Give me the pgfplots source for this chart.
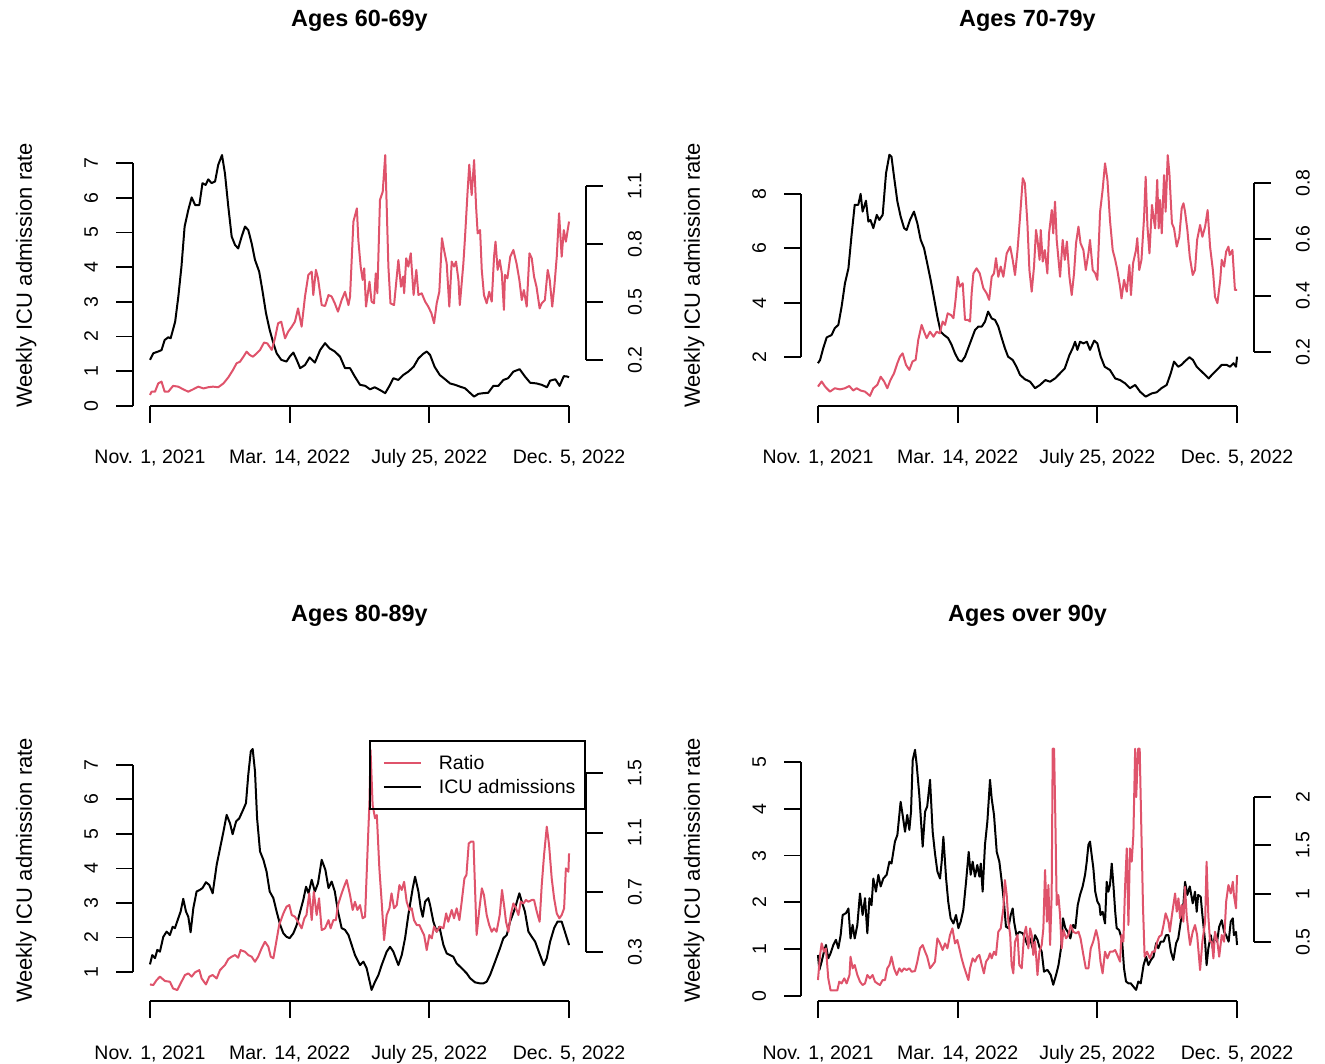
\documentclass[border=0pt]{standalone}
\usepackage{fontspec}
\setmainfont{Liberation Sans}
\usepackage{pgfplots}
\pgfplotsset{compat=1.18}
\definecolor{rred}{HTML}{DF536B}
\tikzset{axl/.style={black, line width=1.8pt}}
\pgfplotsset{
  base/.style={
    scale only axis, width=452.6pt, height=261pt,
    xmin=-15.96, xmax=414.96,
    clip=false,
    axis line style={draw=none},
    tick align=outside,
    major tick length=17pt,
    tick style={black, line width=1.8pt},
    tick label style={font=\fontsize{19.5}{20}\selectfont, inner sep=0pt},
    /pgf/number format/assume math mode=true,
    anchor=south west,
  },
  leftax/.style={
    base,
    axis x line*=bottom, axis y line*=left,
    xtick={0,133,266,399},
    xticklabels={{Nov. 1, 2021},{Mar. 14, 2022},{July 25, 2022},{Dec. 5, 2022}},
    xticklabel style={anchor=base, yshift=-41pt},
    yticklabel style={xshift=-18pt, rotate=90, anchor=south},
    ylabel={Weekly ICU admission rate},
    ylabel style={at={(axis description cs:-0.2364,0.5)}, anchor=center, font=\fontsize{22}{24}\selectfont},
    title style={at={(axis description cs:0.5,1.452)}, anchor=center, font=\bfseries\fontsize{23.4}{26}\selectfont},
  },
  rightax/.style={
    base,
    axis x line=none, axis y line*=right,
    yticklabel style={xshift=25pt, rotate=90, anchor=north},
  },
  kline/.style={black, line width=2pt, line join=round},
  rline/.style={rred, line width=2pt, line join=round},
}
\begin{document}
\begin{tikzpicture}
\path[use as bounding box] (0,0) rectangle (1325pt,1063pt);

% ---------------- Panel 1: Ages 60-69y ----------------
\begin{axis}[leftax, at={(133.2pt,657pt)}, ymin=0, ymax=7.52, ytick={0,1,...,7}, title={Ages 60-69y}]
\addplot[kline] coordinates {(0,1.33)(3.2,1.52)(7.9,1.57)(11,1.61)(14,1.90)(17.5,1.98)(19.7,1.95)(24,2.43)(27,3.15)(30,4.02)(33,5.17)(36.5,5.65)(39.7,6.01)(43,5.79)(47,5.79)(50,6.42)(53,6.37)(55.5,6.53)(58.7,6.42)(62,6.47)(65,6.95)(68.6,7.23)(71.4,6.70)(74.6,5.74)(77.8,4.88)(81,4.64)(84,4.54)(87.3,4.88)(90.5,5.17)(93.6,5.07)(96.8,4.69)(100,4.21)(104,3.87)(107,3.34)(110.5,2.67)(114,2.19)(117.5,1.81)(120.6,1.52)(125,1.33)(130,1.28)(133,1.42)(136.5,1.54)(139.7,1.33)(143,1.09)(147.6,1.18)(152,1.40)(157,1.25)(162,1.61)(166.7,1.81)(171,1.66)(176,1.57)(181,1.42)(185.7,1.09)(190.5,1.09)(195,0.85)(200,0.61)(205,0.58)(209.5,0.48)(214,0.54)(219,0.46)(224,0.37)(228.6,0.61)(231.7,0.80)(236.5,0.75)(241,0.89)(246,0.99)(251,1.13)(255.6,1.37)(260,1.50)(263.5,1.57)(266.7,1.47)(271,1.13)(276,0.89)(281,0.77)(285.7,0.65)(290.5,0.61)(295,0.56)(300,0.51)(305,0.37)(308.6,0.27)(312.7,0.35)(317.5,0.37)(322,0.38)(327,0.58)(331.7,0.58)(336.5,0.75)(341,0.80)(346,0.99)(352,1.06)(357,0.85)(362,0.67)(368,0.65)(373,0.61)(378,0.54)(381,0.73)(386,0.77)(390,0.58)(394,0.86)(397,0.85)(399,0.83)};
\draw[axl] (axis cs:0,0) -- (axis cs:399,0);
\draw[axl] (axis cs:-15.96,0) -- (axis cs:-15.96,7);
\end{axis}
\begin{axis}[rightax, at={(133.2pt,657pt)}, ymin=-0.038, ymax=1.312, ytick={0.2,0.5,0.8,1.1}]
\addplot[rline] coordinates {(0,0.019)(1.6,0.036)(4.8,0.036)(7.9,0.079)(11,0.088)(14,0.036)(17.5,0.036)(22,0.066)(27,0.062)(31.7,0.048)(36.5,0.036)(41,0.048)(46,0.062)(51,0.053)(55.5,0.059)(60,0.062)(65,0.059)(70,0.079)(74.6,0.11)(79,0.148)(82.5,0.183)(85.7,0.191)(89,0.217)(92,0.243)(95,0.226)(98,0.217)(101.6,0.234)(104.8,0.252)(108.6,0.29)(111.7,0.286)(116,0.252)(119,0.312)(122,0.39)(125,0.398)(128.6,0.312)(131.7,0.347)(135,0.372)(138,0.398)(141,0.467)(144.4,0.372)(147.6,0.528)(150.8,0.64)(154,0.657)(155.5,0.536)(158,0.666)(160,0.622)(163.5,0.484)(166.7,0.479)(170,0.536)(173,0.528)(176,0.493)(179,0.45)(182.5,0.51)(185.7,0.553)(189,0.484)(190.5,0.528)(193.7,0.916)(197,0.984)(198.4,0.82)(200.6,0.683)(202.5,0.614)(204,0.674)(205.7,0.476)(209,0.605)(211,0.502)(213.3,0.493)(215,0.648)(216.5,0.545)(219,1.028)(221.6,1.07)(224,1.26)(225.4,0.993)(227,0.683)(229,0.493)(232.4,0.484)(236.5,0.717)(239,0.579)(241,0.631)(242,0.545)(244,0.726)(246,0.683)(248.3,0.752)(251,0.536)(253.6,0.666)(255.6,0.536)(258.7,0.545)(262,0.502)(265,0.476)(268,0.441)(270.5,0.39)(273,0.493)(275.5,0.553)(278,0.83)(280,0.769)(282.5,0.70)(285,0.476)(287.3,0.709)(289.5,0.683)(291.4,0.709)(293.7,0.614)(295,0.484)(298.4,0.70)(300,0.838)(302.5,1.08)(304,1.21)(306.3,1.053)(308.6,1.234)(310.5,0.993)(312,0.855)(314.3,0.872)(315.9,0.666)(318,0.536)(320.6,0.493)(323,0.553)(325.4,0.502)(327.6,0.734)(329,0.812)(331,0.666)(333,0.717)(335,0.648)(337,0.459)(338,0.64)(340.3,0.622)(343,0.734)(346,0.769)(349,0.70)(351.7,0.614)(354,0.51)(356,0.562)(358.7,0.476)(361.3,0.752)(363.5,0.726)(365.7,0.631)(368,0.579)(371,0.467)(373,0.493)(376,0.51)(378.7,0.666)(380.6,0.614)(383,0.476)(385,0.579)(387.3,0.734)(389.5,0.959)(392,0.734)(394,0.872)(396,0.812)(399,0.916)};
\draw[axl] (axis cs:414.96,0.2) -- (axis cs:414.96,1.1);
\end{axis}

% ---------------- Panel 2: Ages 70-79y ----------------
\begin{axis}[leftax, at={(801.2pt,657pt)}, ymin=0.196, ymax=9.80, ytick={2,4,6,8}, title={Ages 70-79y}]
\addplot[kline] coordinates {(0,1.77)(2,1.89)(5,2.32)(8.3,2.72)(13,2.81)(16,3.06)(19.4,3.18)(22.5,3.85)(25.7,4.71)(29,5.26)(32,6.49)(35,7.60)(38.4,7.60)(40.6,8.00)(42.5,7.35)(45.7,7.75)(48,6.98)(50,7.04)(52.7,6.74)(56,7.23)(58.4,7.04)(61.6,7.23)(64.8,8.76)(68,9.44)(70,9.37)(72.4,8.64)(75.6,7.72)(78.7,7.17)(82,6.74)(84.4,6.67)(87.6,7.04)(91.4,7.35)(94.6,6.92)(97.8,6.31)(101,6.00)(104,5.45)(107.3,4.83)(110.5,4.16)(113.7,3.48)(116.8,2.93)(120,2.81)(124,2.69)(127.3,2.44)(130.5,2.13)(133.7,1.89)(136.8,1.83)(140,2.01)(143,2.32)(146,2.63)(149.5,2.99)(152.7,3.12)(156,3.12)(159,3.30)(162,3.67)(165.4,3.42)(168.6,3.36)(171.7,3.12)(175,2.69)(178,2.32)(181,2.01)(185.4,1.89)(189,1.64)(192.4,1.34)(197,1.18)(202,1.09)(206.7,0.85)(211.4,0.97)(216.5,1.15)(221,1.09)(225.7,1.21)(230.5,1.40)(235,1.58)(239.4,2.07)(242.5,2.32)(244.8,2.56)(247,2.26)(249.5,2.56)(252.7,2.50)(256,2.56)(259,2.26)(263,2.60)(266,2.50)(269.2,2.01)(273,1.64)(278,1.52)(283,1.21)(287.6,1.15)(292.4,1.03)(297,0.85)(302,0.97)(306.7,0.72)(312,0.54)(317.8,0.66)(322.5,0.70)(327,0.85)(332,0.97)(335.9,1.40)(339,1.83)(343,1.64)(346,1.71)(349,1.83)(353.7,1.99)(357,1.89)(360.6,1.64)(365.4,1.46)(368.6,1.34)(372,1.21)(375,1.34)(379.7,1.52)(384.4,1.71)(389,1.71)(392.4,1.64)(395.6,1.77)(398,1.64)(399,2.01)};
\draw[axl] (axis cs:0,0.196) -- (axis cs:399,0.196);
\draw[axl] (axis cs:-15.96,2) -- (axis cs:-15.96,8);
\end{axis}
\begin{axis}[rightax, at={(801.2pt,657pt)}, ymin=0.008, ymax=0.935, ytick={0.2,0.4,0.6,0.8}]
\addplot[rline] coordinates {(0,0.077)(3.5,0.095)(6.7,0.077)(11.4,0.059)(16,0.071)(21,0.067)(25.7,0.071)(29.8,0.079)(33.6,0.063)(36.8,0.071)(40.6,0.063)(44.8,0.059)(49.5,0.044)(52.7,0.071)(56.5,0.083)(59.7,0.112)(63,0.095)(66,0.071)(69,0.10)(72.4,0.124)(75.6,0.16)(78,0.183)(80.6,0.195)(83.8,0.154)(87,0.136)(90,0.166)(93,0.172)(95.5,0.243)(98.7,0.296)(101,0.272)(103.5,0.249)(106.7,0.272)(110,0.254)(113,0.272)(116,0.266)(118.7,0.308)(121,0.296)(123.5,0.337)(126.7,0.331)(129,0.32)(131,0.385)(133,0.467)(135,0.432)(137.8,0.444)(140,0.314)(142.5,0.314)(144.8,0.308)(146.3,0.408)(148,0.479)(151,0.497)(154,0.479)(157.5,0.426)(160.6,0.408)(163,0.385)(165.4,0.467)(167.6,0.479)(169.5,0.533)(171.7,0.467)(174,0.503)(176.5,0.467)(179.7,0.55)(183,0.574)(185.4,0.527)(187.6,0.473)(190,0.562)(192.4,0.68)(195,0.817)(197,0.799)(199.4,0.657)(201.3,0.491)(203.5,0.414)(205.7,0.503)(207.6,0.633)(209,0.598)(211,0.527)(212.1,0.633)(214,0.521)(216,0.562)(218.4,0.479)(220,0.621)(222.6,0.704)(224,0.621)(225.7,0.734)(227.3,0.598)(230.5,0.467)(233,0.598)(235,0.527)(237,0.592)(239.4,0.467)(241.6,0.402)(243.8,0.479)(245.7,0.586)(248,0.645)(250,0.586)(252.7,0.562)(255,0.491)(257.5,0.55)(259,0.598)(261.6,0.491)(264,0.479)(266,0.456)(268.6,0.698)(271,0.775)(273.3,0.87)(275.6,0.811)(278,0.669)(280.6,0.562)(283,0.527)(285,0.491)(287.6,0.432)(289,0.39)(291.4,0.456)(294,0.414)(296.5,0.509)(298,0.402)(300,0.515)(302.8,0.562)(304,0.604)(305.9,0.491)(308,0.527)(310.5,0.68)(312,0.822)(313.7,0.645)(315.6,0.55)(318,0.722)(319.4,0.68)(321,0.639)(323,0.811)(324.4,0.639)(325.7,0.74)(327.3,0.621)(329.5,0.828)(331,0.698)(333,0.899)(334.6,0.834)(337,0.657)(339,0.639)(341.6,0.574)(344,0.609)(346.3,0.71)(348,0.728)(349.5,0.698)(351.7,0.633)(354,0.538)(356.8,0.473)(359,0.491)(361,0.598)(363.8,0.651)(366,0.609)(368.6,0.645)(371,0.704)(373.3,0.574)(376,0.491)(378,0.396)(380.3,0.373)(383,0.456)(384.4,0.527)(386.7,0.503)(388.6,0.556)(390.8,0.574)(392,0.544)(394.6,0.562)(397,0.42)(399,0.42)};
\draw[axl] (axis cs:414.96,0.2) -- (axis cs:414.96,0.8);
\end{axis}

% ---------------- Panel 3: Ages 80-89y ----------------
\begin{axis}[leftax, at={(133.2pt,62pt)}, ymin=0.16, ymax=7.72, ytick={1,2,...,7}, title={Ages 80-89y}]
\addplot[kline] coordinates {(0,1.22)(2.2,1.49)(4.8,1.40)(7,1.64)(9.5,1.59)(12.7,2.02)(15.9,2.17)(19,2.07)(21.6,2.31)(23.8,2.27)(27,2.56)(29.2,2.75)(31.7,3.12)(34.3,2.75)(36.5,2.60)(38.7,2.15)(41.3,2.85)(44.4,3.33)(47.6,3.38)(50,3.43)(53.3,3.60)(56.5,3.52)(59.7,3.28)(63.5,4.10)(66.7,4.58)(70,5.07)(73,5.55)(76.2,5.31)(78.7,4.99)(82,5.36)(85,5.45)(88,5.65)(91.4,5.89)(93.6,6.71)(96,7.39)(97.8,7.46)(100,6.81)(102,5.45)(104.8,4.49)(108,4.25)(111,3.91)(114,3.33)(117.5,3.14)(120.6,2.75)(124,2.36)(127,2.12)(130,2.02)(133,1.98)(136.5,2.12)(139.7,2.36)(143,2.75)(146,3.09)(148.6,3.47)(151,3.28)(154,3.67)(157,3.33)(160,3.57)(163.5,4.25)(167,3.96)(170,3.43)(173,3.62)(176,3.33)(179,2.75)(182.5,2.27)(185.7,2.22)(189,2.07)(195.2,1.49)(200,1.20)(203.2,1.30)(206.3,1.11)(211,0.48)(214.3,0.72)(217.5,0.91)(220.6,1.20)(225.4,1.59)(228.6,1.73)(231.7,1.59)(236.5,1.20)(239.7,1.49)(242.9,1.98)(246,2.65)(250.2,3.43)(252.4,3.76)(255.6,3.33)(257.8,2.85)(259.7,2.60)(262,3.04)(265,3.14)(266.7,2.94)(269.8,2.46)(273,2.17)(275.6,2.31)(279.4,1.78)(282.5,1.54)(285.7,1.49)(288.9,1.44)(292,1.25)(296.8,1.11)(301.6,0.96)(304.8,0.82)(309.5,0.70)(314.3,0.67)(317.5,0.67)(320.6,0.72)(323.8,0.91)(328.6,1.30)(333.3,1.69)(336.5,1.98)(339.7,2.07)(342.9,2.46)(347.6,2.85)(351.7,3.28)(354,3.04)(357,2.75)(360.3,2.17)(363.5,2.02)(366.7,1.88)(371.4,1.49)(375,1.20)(377.8,1.40)(381,1.88)(384.8,2.27)(388,2.46)(392,2.46)(395,2.17)(399,1.78)};
\draw[axl] (axis cs:0,0.16) -- (axis cs:399,0.16);
\draw[axl] (axis cs:-15.96,1) -- (axis cs:-15.96,7);
\end{axis}
\begin{axis}[rightax, at={(133.2pt,62pt)}, ymin=-0.028, ymax=1.721, ytick={0.3,0.7,1.1,1.5},
  legend style={at={(1,1)}, anchor=north east, draw=black, line width=1.8pt, fill=none,
    font=\fontsize{19.5}{20}\selectfont, inner xsep=9.5pt, inner ysep=14pt, row sep=8.5pt,
    nodes={inner sep=0pt}, /tikz/every odd column/.append style={column sep=17pt}},
  legend image code/.code={\path (0pt,0pt); \draw[#1] (3.5pt,0pt) -- (40.5pt,0pt);},
  legend cell align=left]
\addplot[rline] coordinates {(0,0.083)(3.2,0.079)(6.3,0.112)(9.5,0.135)(14.3,0.106)(19,0.101)(22,0.056)(26,0.045)(29.2,0.09)(33.3,0.146)(36.5,0.157)(39.7,0.135)(42.9,0.164)(47,0.179)(49.2,0.123)(53.3,0.083)(56.5,0.135)(59.7,0.146)(63.5,0.123)(66.7,0.179)(71.4,0.213)(74.6,0.253)(77.8,0.269)(81,0.28)(84,0.262)(86.3,0.313)(90.5,0.302)(93.6,0.28)(96.8,0.269)(100,0.235)(103,0.269)(106.3,0.325)(109.5,0.369)(112.7,0.336)(115,0.269)(117.5,0.258)(120,0.358)(123,0.481)(127,0.559)(130,0.604)(132.7,0.615)(135,0.548)(138,0.537)(141,0.503)(144.4,0.459)(147,0.526)(149,0.548)(151.7,0.693)(154,0.514)(156,0.704)(158.7,0.548)(161,0.66)(163.5,0.447)(166.7,0.459)(170,0.514)(172,0.459)(174.6,0.514)(177,0.514)(179,0.615)(182.5,0.693)(184.8,0.738)(187.3,0.783)(190.5,0.682)(193,0.582)(195.2,0.637)(197.5,0.582)(200,0.615)(202.5,0.526)(204.8,0.537)(207,0.95)(209,1.308)(210,1.654)(212,1.285)(214.3,1.196)(216,1.218)(218.4,0.861)(220.6,0.637)(222.9,0.38)(225.4,0.548)(228,0.593)(230,0.693)(232.4,0.593)(235,0.615)(237.5,0.749)(239.7,0.716)(242,0.771)(244.4,0.637)(247,0.582)(249.2,0.593)(251.4,0.514)(254,0.481)(256.5,0.481)(258.7,0.447)(261,0.414)(263.5,0.313)(266,0.414)(268.3,0.392)(270.5,0.47)(273,0.436)(276,0.47)(279.4,0.459)(282,0.559)(284,0.503)(287.3,0.582)(289.5,0.526)(292,0.593)(294.6,0.514)(296.8,0.637)(299.4,0.794)(301.3,0.816)(303.5,1.028)(305.7,1.04)(308,1.04)(309.5,0.727)(311,0.414)(313.7,0.593)(316,0.727)(318,0.682)(320.6,0.548)(323,0.481)(325.4,0.436)(327.6,0.459)(330,0.436)(333,0.548)(335.2,0.716)(337.5,0.593)(339,0.503)(341.3,0.436)(343.5,0.548)(346,0.626)(348.6,0.593)(350.8,0.548)(353,0.637)(355.6,0.626)(358,0.649)(360.3,0.637)(363.5,0.649)(365.7,0.649)(368.3,0.57)(371,0.503)(373,0.749)(375.2,0.95)(377.8,1.14)(380,1.017)(382.5,0.794)(384.8,0.66)(387.3,0.559)(389.8,0.526)(392,0.548)(394.3,0.593)(396,0.861)(398.4,0.838)(399,0.961)};
\addlegendentry{Ratio}
\addlegendimage{kline}
\addlegendentry{ICU admissions}
\draw[axl] (axis cs:414.96,0.3) -- (axis cs:414.96,1.5);
\end{axis}

% ---------------- Panel 4: Ages over 90y ----------------
\begin{axis}[leftax, at={(801.2pt,62pt)}, ymin=-0.107, ymax=5.47, ytick={0,1,...,5}, title={Ages over 90y}]
\addplot[kline] coordinates {(0,0.876)(1.3,0.556)(3.5,0.734)(5.7,0.947)(7.6,1.09)(9.8,0.805)(12,0.912)(14.6,1.09)(17.1,1.2)(19.4,1.02)(21.6,1.3)(23.5,1.73)(26.7,1.77)(29,1.87)(31,1.23)(33,1.52)(35,1.23)(37.5,1.52)(40,2.19)(42.5,1.73)(44.8,2.09)(47,1.34)(49,2.09)(51,1.94)(52.7,2.51)(55.2,2.23)(57.5,2.59)(59.7,2.34)(62.2,2.51)(65.4,2.59)(68,2.87)(70,2.83)(73.3,3.3)(75.6,3.44)(78.7,4.15)(80.6,3.87)(82.9,3.51)(85,3.87)(87,3.55)(88.6,3.94)(90.2,5.04)(92.4,5.26)(94,4.94)(96.5,4.29)(99.7,3.19)(102,3.94)(104,4.05)(106.7,4.62)(109.2,3.51)(111.4,3.05)(113.7,2.66)(116.2,2.51)(117.8,2.87)(119.4,3.4)(122,2.51)(124,2.02)(126.3,1.66)(129,1.55)(131.4,1.73)(133.7,1.45)(135.9,1.59)(138.4,1.84)(141,2.44)(143.5,3.08)(145.4,2.59)(147.3,2.87)(149.5,2.55)(151.7,2.8)(153.7,2.55)(155,2.83)(156.8,2.23)(159,3.23)(161.3,3.73)(163.8,4.62)(165.4,4.22)(167.6,3.87)(170.2,3.08)(172.7,2.87)(175,2.44)(177,2.02)(179,1.48)(181.3,1.45)(183.5,1.73)(185.4,1.87)(186.7,1.59)(189,1.3)(191.7,1.37)(195,1.34)(197,1.23)(199.4,1.09)(202,1.23)(204.4,1.02)(206.7,1.3)(209,1.2)(210.8,1.05)(213,0.95)(215.2,0.52)(218.4,0.56)(221.6,0.45)(224,0.24)(226.7,0.45)(229,0.66)(231.4,1.02)(233.3,1.66)(235.5,1.45)(237.8,1.37)(240.3,1.23)(242.9,1.52)(245,1.45)(247.3,1.94)(249.5,2.16)(252,2.34)(254.3,2.59)(255.9,2.87)(257.5,3.23)(259,3.3)(260.6,3.01)(262.2,2.73)(264,2.23)(266,2.02)(268,1.94)(269,1.73)(271,1.8)(273.3,1.55)(274.9,2.44)(276.5,2.23)(278,2.37)(279.7,2.83)(281.3,2.37)(283,1.8)(284.4,1.45)(286.7,1.41)(289.5,1.2)(291.4,0.59)(293.3,0.31)(295.6,0.27)(297.8,0.27)(300.3,0.2)(302.9,0.13)(305,0.31)(307.3,0.27)(310,0.66)(312.4,0.84)(314.6,0.66)(317,0.77)(319.4,0.84)(322,1.13)(324,1.02)(326.3,1.16)(329,1.16)(331.4,1.3)(333.7,1.3)(336,0.95)(338.4,0.77)(341,1.13)(343,1.23)(345.4,1.59)(348,1.98)(349.5,2.44)(351.7,2.16)(354,2.34)(356.8,1.98)(359,2.23)(360.6,1.8)(362,2.16)(364.4,2.12)(366,1.73)(368.6,1.16)(370,0.66)(371.7,1.02)(374,1.3)(375.9,1.02)(378,1.3)(380,1.16)(382,1.48)(384.4,1.62)(386.7,1.37)(388.6,1.3)(391,1.16)(393,1.59)(395,1.66)(396,1.3)(398,1.37)(399,1.09)};
\draw[axl] (axis cs:0,-0.107) -- (axis cs:399,-0.107);
\draw[axl] (axis cs:-15.96,0) -- (axis cs:-15.96,5);
\end{axis}
\begin{axis}[rightax, at={(801.2pt,62pt)}, ymin=-0.11, ymax=2.59, ytick={0.5,1,1.5,2}]
\addplot[rline] coordinates {(0,0.107)(2,0.366)(3.5,0.486)(5.7,0.4)(7.6,0.434)(9.8,0.124)(12,0)(15.2,0)(18.4,0)(20.3,0.09)(22.5,0.072)(25,0.124)(27.3,0.072)(30,0.159)(31,0.348)(33,0.228)(35,0.262)(37.5,0.159)(40,0.09)(42.5,0.055)(44.8,0.072)(47,0.159)(49.5,0.124)(52,0.159)(54.3,0.09)(56.5,0.072)(59,0.055)(61.6,0.107)(63.8,0.107)(66,0.228)(68,0.262)(70,0.348)(72.4,0.228)(75,0.159)(77.5,0.228)(79.7,0.193)(82,0.228)(84.4,0.21)(87,0.228)(89.2,0.193)(92.4,0.2)(94.6,0.297)(97.1,0.434)(99.7,0.469)(102,0.4)(104,0.348)(106.7,0.228)(109.2,0.262)(111.4,0.297)(113.7,0.538)(116.2,0.486)(118.7,0.417)(121,0.486)(123.2,0.434)(125.7,0.572)(128,0.641)(130.5,0.486)(132.7,0.521)(134.6,0.434)(136.8,0.331)(139,0.245)(141.6,0.159)(143.2,0.107)(144.8,0.228)(147.3,0.331)(149.5,0.297)(151.7,0.348)(153.7,0.366)(156,0.262)(158,0.176)(160,0.297)(162.2,0.331)(163.8,0.383)(165.4,0.331)(167.6,0.4)(169.5,0.366)(171.7,0.607)(174,0.641)(176.5,0.848)(178,1.141)(179.7,0.986)(181.3,0.71)(183,0.572)(184.4,0.262)(186,0.176)(187.6,0.503)(190,0.572)(191.7,0.262)(194,0.228)(196.2,0.572)(198.1,0.659)(200.3,0.434)(202,0.641)(203.5,0.572)(205,0.366)(206.7,0.503)(209,0.159)(210.8,0.4)(213,0.469)(214.6,0.641)(216.2,1.245)(218,0.71)(219.4,1.09)(221,0.469)(222.5,0.986)(223.5,2.5)(224.8,2.5)(226,1.779)(227.3,0.883)(228.9,0.986)(230.5,0.779)(232,0.434)(233.7,0.624)(236.2,0.538)(238.4,0.572)(240.6,0.676)(243,0.607)(245.7,0.59)(248,0.607)(250,0.538)(252.7,0.366)(255,0.228)(257.5,0.228)(259.7,0.434)(262,0.503)(264.8,0.624)(267,0.521)(269,0.297)(271,0.176)(273.3,0.4)(275.6,0.331)(278,0.4)(280.6,0.4)(283,0.417)(285,0.366)(287.6,0.297)(289,0.572)(290.8,0.503)(292.4,1.072)(294,1.469)(295.6,0.676)(297,1.469)(298.7,1.331)(300.3,1.607)(302,2.5)(303,2.0)(304.8,2.5)(306.3,2.5)(308,1.607)(309.5,0.848)(311,0.348)(313.3,0.4)(316,0.331)(318.4,0.4)(320.6,0.4)(323,0.503)(324.8,0.555)(327,0.572)(329,0.676)(331,0.797)(333.7,0.71)(335,0.607)(336.8,0.762)(338.4,0.883)(340,1.003)(341.6,0.814)(343.2,0.952)(344.8,0.745)(346.3,0.883)(347.9,0.71)(349.5,1.072)(351,0.779)(352.7,0.607)(354.3,0.469)(356.8,0.607)(359,0.676)(361,0.572)(363.8,0.21)(366,0.503)(368.6,0.71)(370,1.331)(371.7,0.762)(373.3,0.503)(375,0.503)(376.5,0.331)(378,0.607)(380.3,0.503)(382,0.348)(384.4,0.572)(386.7,0.503)(388.6,0.917)(390.8,1.09)(393,1.003)(395,1.124)(396,0.986)(398,0.848)(399,1.193)};
\draw[axl] (axis cs:414.96,0.5) -- (axis cs:414.96,2);
\end{axis}
\end{tikzpicture}
\end{document}
